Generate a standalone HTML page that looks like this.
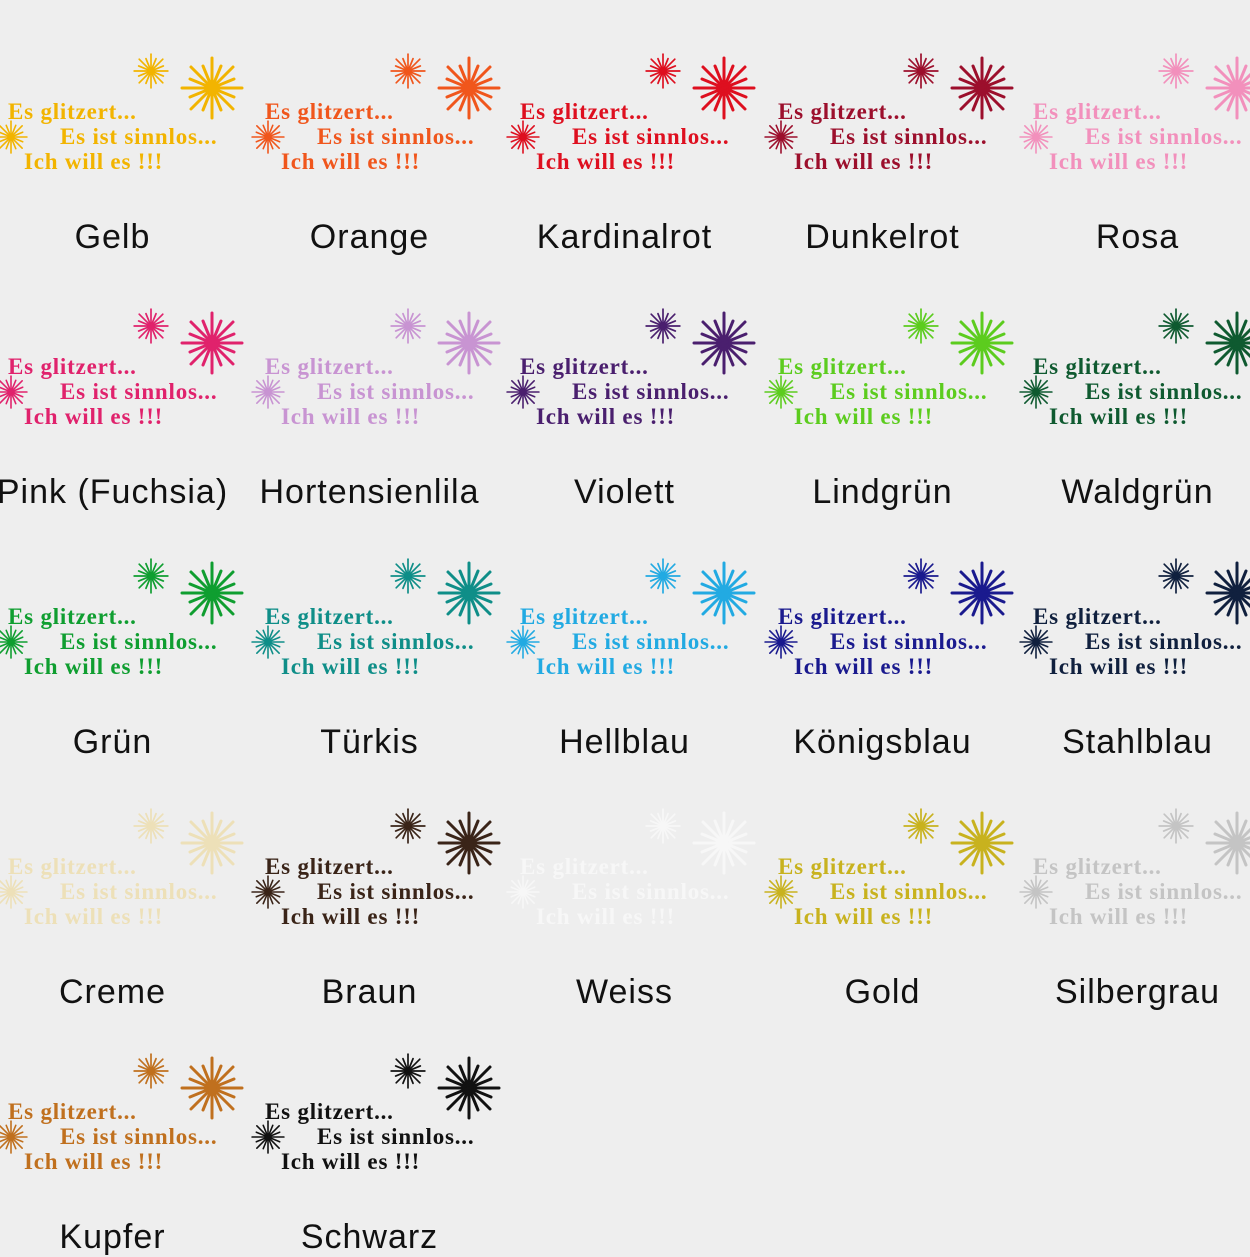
<!DOCTYPE html>
<html><head><meta charset="utf-8"><style>
body{margin:0;width:1250px;height:1250px;background:#eeeeee;overflow:hidden;position:relative;font-family:"Liberation Serif",serif}
.c{position:absolute;width:250px;height:250px}
.c svg{position:absolute;overflow:visible}
.t{position:absolute;font-family:"Liberation Serif",serif;font-weight:bold;font-size:23px;letter-spacing:0.8px;white-space:nowrap;color:var(--k)}
.l{position:absolute;left:-10px;width:245px;top:218px;text-align:center;font-family:"Liberation Sans","DejaVu Sans",sans-serif;font-size:34px;letter-spacing:1px;color:#111;white-space:nowrap}
</style></head><body>
<svg width="0" height="0" style="position:absolute"><defs><symbol id="s" viewBox="-32 -32 64 64"><g stroke="currentColor" stroke-width="3" stroke-linecap="round"><line x1="-30" y1="0" x2="30" y2="0"/><line x1="-22" y1="-9" x2="22" y2="9"/><line x1="-21" y1="-21" x2="21" y2="21"/><line x1="-9" y1="-22" x2="9" y2="22"/><line x1="0" y1="-30" x2="0" y2="30"/><line x1="9" y1="-22" x2="-9" y2="22"/><line x1="21" y1="-21" x2="-21" y2="21"/><line x1="22" y1="-9" x2="-22" y2="9"/></g><circle r="6" fill="none" stroke="currentColor" stroke-width="2"/></symbol></defs></svg>
<div id="root"></div>
<script>
var d=[["Gelb","#f2b400"],["Orange","#f0561c"],["Kardinalrot","#de0f1f"],["Dunkelrot","#9c0f2c"],["Rosa","#f290bc"],
["Pink (Fuchsia)","#e0226c"],["Hortensienlila","#c894d2"],["Violett","#4a1f6e"],["Lindgrün","#5ccc1e"],["Waldgrün","#0f5a30"],
["Grün","#0f9e30"],["Türkis","#0f8e88"],["Hellblau","#22aae2"],["Königsblau","#1a1a8e"],["Stahlblau","#10203e"],
["Creme","#ede0b8"],["Braun","#3a2418"],["Weiss","#f7f7f7"],["Gold","#c8b21e"],["Silbergrau","#c4c4c4"],
["Kupfer","#c0701e"],["Schwarz","#111111"]];
var xs=[0,257,512,770,1025],ys=[0,255,505,755,1000],h="";
d.forEach(function(e,i){var x=xs[i%5],y=ys[Math.floor(i/5)];
h+='<div class="c" style="left:'+x+'px;top:'+y+'px;--k:'+e[1]+';color:'+e[1]+'">'+
'<svg style="left:133px;top:53px" width="36" height="36"><use href="#s"/></svg>'+
'<svg style="left:180px;top:56px" width="64" height="64"><use href="#s"/></svg>'+
'<svg style="left:-6px;top:120px" width="34" height="34"><use href="#s"/></svg>'+
'<div class="t" style="left:8px;top:99px">Es glitzert...</div>'+
'<div class="t" style="left:60px;top:124px">Es ist sinnlos...</div>'+
'<div class="t" style="left:24px;top:149px">Ich will es !!!</div>'+
'<div class="l">'+e[0]+'</div></div>';});
document.getElementById("root").innerHTML=h;
</script>
</body></html>
